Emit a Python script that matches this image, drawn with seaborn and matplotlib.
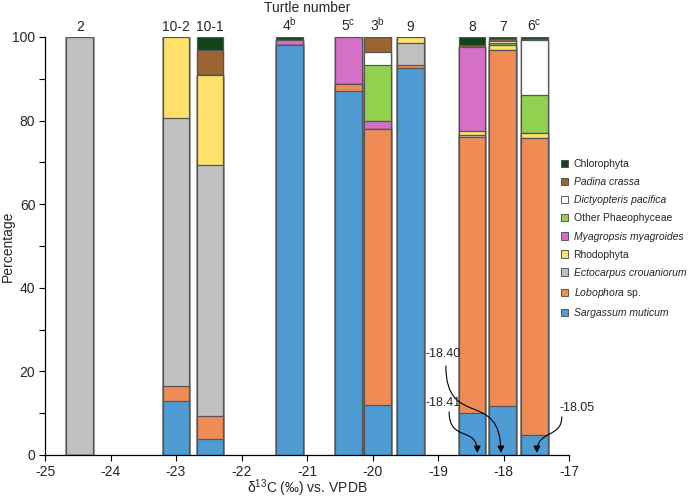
import numpy as np
import pandas as pd
import matplotlib
matplotlib.use("Agg")
import matplotlib.pyplot as plt
import seaborn as sns
from matplotlib.patches import Patch, FancyArrowPatch
from matplotlib.path import Path

# turtles, left to right, and their d13C position on the axis
turtles = ["2", "10-2", "10-1", "4$^{\\mathrm{b}}$", "5$^{\\mathrm{c}}$",
           "3$^{\\mathrm{b}}$", "9", "8", "7", "6$^{\\mathrm{c}}$"]
d13c = [-24.47, -23.0, -22.48, -21.27, -20.37, -19.92, -19.42, -18.48, -18.01, -17.53]

# percentages per algal group (stacked bottom to top)
sargassum = [0, 13.0, 3.8, 98.2, 87.1, 12.0, 92.7, 10.0, 11.7, 4.9]
lobophora = [0, 3.6, 5.5, 0, 1.7, 65.9, 0.6, 66.1, 85.2, 70.9]
ectocarpus = [100, 64.0, 60.0, 0, 0, 0, 5.2, 0.5, 0, 0]
rhodophyta = [0, 19.4, 21.5, 0, 0, 0, 1.5, 0.9, 1.2, 1.3]
myagropsis = [0, 0, 0, 1.1, 11.2, 2.1, 0, 20.0, 0, 0]
other_phaeo = [0, 0, 0, 0, 0, 13.3, 0, 0, 0.5, 9.0]
dictyopteris = [0, 0, 0, 0, 0, 3.2, 0, 0, 0.35, 13.3]
padina = [0, 0, 6.1, 0, 0, 3.5, 0, 0.6, 0.65, 0.2]
chlorophyta = [0, 0, 3.1, 0.7, 0, 0, 0, 1.9, 0.4, 0.4]

groups = ["Sargassum muticum", "Lobophora sp.", "Ectocarpus crouaniorum", "Rhodophyta",
          "Myagropsis myagroides", "Other Phaeophyceae", "Dictyopteris pacifica",
          "Padina crassa", "Chlorophyta"]
legend_labels = ["Sargassum muticum", "$\\mathit{Lobophora}$ sp.", "Ectocarpus crouaniorum",
                 "Rhodophyta", "Myagropsis myagroides", "Other Phaeophyceae",
                 "Dictyopteris pacifica", "Padina crassa", "Chlorophyta"]
italic = [True, False, True, False, True, False, True, True, False]
colors = ["#4f9bd4", "#ef8b55", "#c0c0c0", "#fde16a", "#d56fc8",
          "#92d050", "#ffffff", "#9b6432", "#12431a"]

sns.set_style("ticks")
plt.rcParams["font.family"] = ["Liberation Sans", "DejaVu Sans"]
plt.rcParams["mathtext.fontset"] = "custom"
plt.rcParams["mathtext.rm"] = "Liberation Sans"
plt.rcParams["mathtext.it"] = "Liberation Sans:italic"
plt.rcParams["mathtext.bf"] = "Liberation Sans:bold"
plt.rcParams["axes.unicode_minus"] = False

df = pd.DataFrame({"d13C": d13c, "Turtle": turtles})
for g, vals in zip(groups, [sargassum, lobophora, ectocarpus, rhodophyta, myagropsis,
                            other_phaeo, dictyopteris, padina, chlorophyta]):
    df[g] = vals
cum = df[groups].cumsum(axis=1)
cum["d13C"] = df["d13C"]

fig = plt.figure(figsize=(6.94, 5.01), dpi=100)
ax = fig.add_axes([45 / 694, 1 - 455 / 501, 524 / 694, 418 / 501])

# bar width of ~0.41 permil on the native scale
width = 0.41 / np.min(np.diff(np.sort(d13c)))

# draw cumulative layers from the top down so each segment shows
for g, c in zip(groups[::-1], colors[::-1]):
    sns.barplot(data=cum, x="d13C", y=g, native_scale=True, color=c, saturation=1,
                width=width, edgecolor="#555555", linewidth=0.9, errorbar=None, ax=ax)

ax.set_xlim(-25, -17)
ax.set_ylim(0, 100)
ax.set_xticks(range(-25, -16))
ax.set_xticklabels([str(v) for v in range(-25, -16)])
ax.set_yticks([0, 20, 40, 60, 80, 100])
ax.set_yticks([10, 30, 50, 70, 90], minor=True)
ax.tick_params(axis="both", which="both", direction="out", length=4, width=0.8,
               color="black", labelsize=10, pad=3)
sns.despine(ax=ax)
for s in ["left", "bottom"]:
    ax.spines[s].set_color("black")
    ax.spines[s].set_linewidth(0.9)

ax.set_xlabel("δ$^{13}$C (‰) vs. VPDB", fontsize=10)
ax.set_ylabel("Percentage", fontsize=10)
ax.xaxis.set_label_coords(0.5, -0.054)
ax.yaxis.set_label_coords(-0.058, 0.5)

for x, lab in zip(d13c, turtles):
    ax.text(x, 100.8, lab, ha="center", va="bottom", fontsize=10, clip_on=False)
ax.text(0.5, 1.069, "Turtle number", transform=ax.transAxes, ha="center", va="center",
        fontsize=10)


def curved_arrow(x0, y0, x1, y1, c0, c1):
    path = Path([(x0, y0), (x0, c0), (x1, c1), (x1, y1)],
                [Path.MOVETO, Path.CURVE4, Path.CURVE4, Path.CURVE4])
    arr = FancyArrowPatch(path=path, arrowstyle="-|>,head_length=4,head_width=2",
                          color="black", linewidth=0.8, clip_on=False)
    ax.add_patch(arr)


ax.text(-18.92, 24.2, "-18.40", ha="center", va="center", fontsize=9)
curved_arrow(-18.88, 21.3, -18.04, 0.5, 6, 16)
ax.text(-18.92, 12.4, "-18.41", ha="center", va="center", fontsize=9)
curved_arrow(-18.83, 10.3, -18.40, 0.5, 3, 7)
ax.text(-16.88, 11.2, "-18.05", ha="center", va="center", fontsize=9)
curved_arrow(-17.11, 9.1, -17.49, 0.5, 4, 6)

handles = [Patch(facecolor=c, edgecolor="#444444", linewidth=0.6) for c in colors]
leg = fig.legend(handles[::-1], legend_labels[::-1], loc="upper left",
                 bbox_to_anchor=(561 / 694, 1 - 159 / 501), frameon=False, fontsize=7.5,
                 handlelength=0.7, handleheight=0.7, handletextpad=0.5,
                 labelspacing=0.78, borderaxespad=0, borderpad=0)
for t, it in zip(leg.get_texts(), italic[::-1]):
    if it:
        t.set_fontstyle("italic")

fig.savefig("out.png", dpi=100)
